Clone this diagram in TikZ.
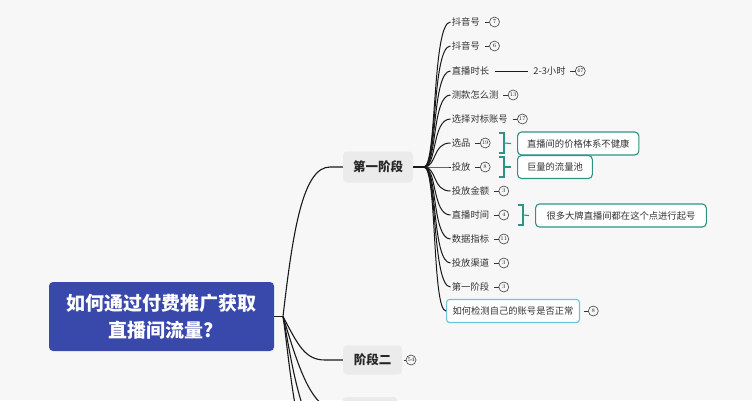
\documentclass[tikz,border=0pt]{standalone}
\usepackage{fontspec}
\newfontfamily\cjk{Noto Sans CJK SC}
\definecolor{bgcol}{HTML}{F7F7F7}
\definecolor{rootblue}{HTML}{3949AB}
\definecolor{stagegray}{HTML}{EBEBEB}
\definecolor{tealc}{HTML}{2E9285}
\definecolor{lblue}{HTML}{6CC4DD}
\definecolor{txt}{HTML}{333333}
\begin{document}
\begin{tikzpicture}[x=1pt,y=-1pt,
  lbl/.style={anchor=west, inner sep=1.2pt, font=\cjk\fontsize{9.3}{10}\selectfont, text=txt},
  badge/.style={circle, draw=black!75, line width=0.6pt, minimum size=10pt, inner sep=0pt, font=\fontsize{5.6}{5}\selectfont, text=black!85},
  stagebox/.style={rounded corners=4pt, fill=stagegray, font=\cjk\bfseries\fontsize{12.5}{14}\selectfont, text=black!85, inner sep=0pt},
  notebox/.style={anchor=west, rounded corners=4pt, draw=tealc, line width=1.1pt, fill=white, minimum height=23pt, inner xsep=9.5pt, inner ysep=0pt, font=\cjk\fontsize{9.3}{10}\selectfont, text=txt},
  brk/.style={draw=tealc, line width=1.1pt},
  mainline/.style={draw=black!90, line width=1.1pt},
  subline/.style={draw=black!90, line width=1pt},
  dashline/.style={draw=black!80, line width=0.9pt}
]
\useasboundingbox (0,0) rectangle (752,400);
\fill[bgcol] (0,0) rectangle (752,400);
\clip (0,0) rectangle (752,400);

% root
\node[rounded corners=4pt, fill=rootblue, minimum width=225pt, minimum height=69pt, inner sep=0pt,
  align=center, text=white, font=\cjk\bfseries\fontsize{19}{27}\selectfont] (root) at (161.5,316.5)
  {如何通过付费推广获取\\直播间流量?};
\coordinate (hub) at (283,316.5);
\draw[mainline] (root.east) -- (hub);

% stages
\node[stagebox, minimum width=70pt, minimum height=31pt] (s1) at (378,167) {第一阶段};
\node[stagebox, minimum width=59pt, minimum height=29pt] (s2) at (372.5,360) {阶段二};
\node[stagebox, minimum width=55pt, minimum height=30pt] (s3) at (370,412) {};
\node[badge] (b54) at (411,360) {54};
\draw[dashline] ([xshift=1.5pt]s2.east) -- (b54.west);

\draw[mainline] (hub) .. controls (293,230) and (303,167) .. (330,167) -- (s1.west);
\draw[mainline] (hub) .. controls (298,345) and (305,360) .. (325,360) -- (s2.west);
\draw[mainline] (hub) .. controls (300,372) and (312,412) .. (s3.west);
\draw[mainline] (hub) .. controls (292,360) and (300,440) .. (343,470);
\draw[mainline] (hub) .. controls (290,360) and (296,480) .. (343,530);

% stage 1 children
\coordinate (hub1) at (424,167);
\draw[mainline] (s1.east) -- (hub1);

\foreach \i/\y/\t in {1/22/抖音号,2/46/抖音号,3/71/直播时长,4/95/测款怎么测,5/119/选择对标账号,
  6/143/选品,7/167/投放,8/191/投放金额,9/215/直播时间,10/239/数据指标,11/263/投放渠道,12/287/第一阶段}{
  \node[lbl] (c\i) at (450.5,\y) {\t};
  \draw[subline] (hub1) .. controls (437,167) and (432,\y) .. (c\i.west);
}
\node[lbl, draw=lblue, line width=1.1pt, rounded corners=3pt, fill=white, minimum height=23pt, inner xsep=6pt, inner ysep=0pt, anchor=west] (c13) at (446,311) {如何检测自己的账号是否正常};
\draw[subline] (hub1) .. controls (437,167) and (432,311) .. (c13.west);

% badges
\foreach \i/\n in {1/7,2/6,4/13,5/17,6/19,7/8,8/3,9/4,10/11,11/3,12/3,13/8}{
  \node[badge, anchor=west] (b\i) at ([xshift=8pt]c\i.east) {\n};
  \draw[dashline] ([xshift=3.5pt]c\i.east) -- (b\i.west);
}

% duration branch
\node[lbl] (d3) at (532,71) {2-3小时};
\draw[subline] ([xshift=4pt]c3.east) -- ([xshift=-4pt]d3.west);
\node[badge, anchor=west] (b3) at ([xshift=8pt]d3.east) {47};
\draw[dashline] ([xshift=3.5pt]d3.east) -- (b3.west);

% notes
\node[notebox] (n6) at (517,143.5) {直播间的价格体系不健康};
\node[notebox] (n7) at (517,167) {巨量的流量池};
\node[notebox, inner xsep=11pt] (n9) at (535,215.5) {很多大牌直播间都在这个点进行起号};

\draw[brk] (499,133) -- (504,133) -- (504,153) -- (499,153);
\draw[brk] (504,143) -- ([xshift=-6pt]n6.west);
\draw[brk] (499,157) -- (504,157) -- (504,177) -- (499,177);
\draw[brk] (504,167) -- ([xshift=-6pt]n7.west);
\draw[brk] (518,205) -- (523,205) -- (523,225) -- (518,225);
\draw[brk] (523,215) -- ([xshift=-6pt]n9.west);
\end{tikzpicture}
\end{document}
